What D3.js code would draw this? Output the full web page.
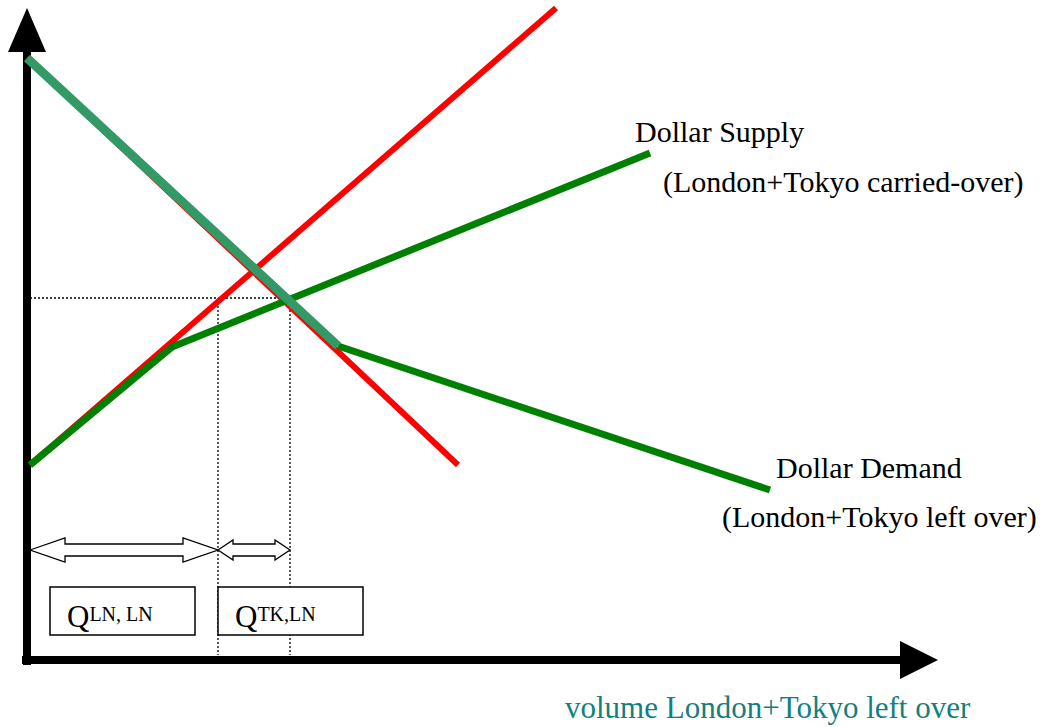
<!DOCTYPE html>
<html>
<head>
<meta charset="utf-8">
<script src="https://cdn.jsdelivr.net/npm/d3@7"></script>
<style>
  body { margin: 0; background: #fff; }
  svg { display: block; }
  text { font-family: "Liberation Serif", "DejaVu Serif", serif; }
</style>
</head>
<body>
<svg width="1048" height="727"></svg>
<script>
// Curves (quantity, price)
const redSupply = [[0.3, 19.5], [52.9, 65.2]];
const redDemand = [[0, 60.2], [43.1, 19.5]];
const dollarSupply = [[0.3, 19.5], [14.5, 31.3], [62.3, 50.7]];
const dollarDemandTop = [[0, 60.2], [31.1, 31.4]];
const dollarDemandLow = [[31.1, 31.4], [74.3, 17.0]];

// Equilibrium guides
const eqPrice = 36.2;
const qLN = 19.1;
const qTK = 26.3;

const labels = ["Dollar Supply", "(London+Tokyo carried-over)", "Dollar Demand", "(London+Tokyo left over)"];
const boxLabels = [["Q", "LN, LN"], ["Q", "TK,LN"]];
const axisLabel = "volume London+Tokyo left over";

const svg = d3.select("svg");

const x = d3.scaleLinear().domain([0, 91]).range([27, 937]);
const y = d3.scaleLinear().domain([0, 65.2]).range([660, 8]);

const line = d3.line().x(d => x(d[0])).y(d => y(d[1]));

// Axes with arrows
svg.append("line")
    .attr("x1", x(0)).attr("x2", x(0))
    .attr("y1", y(-0.5)).attr("y2", y(60.8))
    .attr("stroke", "black").attr("stroke-width", 8);
svg.append("path")
    .attr("d", `M${x(0)},${y(65.2)} L${x(-1.9)},${y(60.8)} L${x(1.9)},${y(60.8)} Z`)
    .attr("fill", "black");
svg.append("line")
    .attr("x1", x(-0.5)).attr("x2", x(87.5))
    .attr("y1", y(0)).attr("y2", y(0))
    .attr("stroke", "black").attr("stroke-width", 8);
svg.append("path")
    .attr("d", `M${x(91.1)},${y(0)} L${x(87.3)},${y(1.9)} L${x(87.3)},${y(-1.9)} Z`)
    .attr("fill", "black");

// Dotted guides
const dotted = [
  [[0.3, eqPrice], [qTK, eqPrice]],
  [[qLN, eqPrice], [qLN, 0.5]],
  [[qTK, eqPrice], [qTK, 0.5]]
];
svg.selectAll(".guide")
    .data(dotted)
    .enter()
    .append("path")
    .attr("class", "guide")
    .attr("d", line)
    .attr("fill", "none")
    .attr("stroke", "black")
    .attr("stroke-width", 1.3)
    .attr("stroke-dasharray", "2,2");

// Curves
svg.append("path").attr("d", line(redDemand))
    .attr("fill", "none").attr("stroke", "#ff0000").attr("stroke-width", 6);
svg.append("path").attr("d", line(redSupply))
    .attr("fill", "none").attr("stroke", "#ff0000").attr("stroke-width", 6);
svg.append("path").attr("d", line(dollarSupply))
    .attr("fill", "none").attr("stroke", "#008000").attr("stroke-width", 7);
svg.append("path").attr("d", line(dollarDemandLow))
    .attr("fill", "none").attr("stroke", "#008000").attr("stroke-width", 7);
svg.append("path").attr("d", line(dollarDemandTop))
    .attr("fill", "none").attr("stroke", "#339966").attr("stroke-width", 9);

// Hollow double arrows
function doubleArrow(q0, q1, p, head, half, shaft) {
  const x0 = x(q0), x1 = x(q1), yc = y(p);
  const d = `M${x0},${yc} L${x0 + head},${yc - half} L${x0 + head},${yc - shaft}` +
    ` L${x1 - head},${yc - shaft} L${x1 - head},${yc - half} L${x1},${yc}` +
    ` L${x1 - head},${yc + half} L${x1 - head},${yc + shaft} L${x0 + head},${yc + shaft}` +
    ` L${x0 + head},${yc + half} Z`;
  svg.append("path").attr("d", d)
      .attr("fill", "white").attr("stroke", "black").attr("stroke-width", 1.3);
}
doubleArrow(0.3, qLN, 11.0, 35, 12, 6);
doubleArrow(qLN, qTK, 11.0, 15, 10, 6);

// Boxes
const boxes = [[2.3, 16.8], [19.1, 33.6]];
boxes.forEach((b, i) => {
  svg.append("rect")
      .attr("x", x(b[0])).attr("y", y(7.3))
      .attr("width", x(b[1]) - x(b[0])).attr("height", y(2.5) - y(7.3))
      .attr("fill", "white").attr("stroke", "black").attr("stroke-width", 1.5);
  const t = svg.append("text")
      .attr("x", x(b[0]) + 17).attr("y", y(3.3))
      .attr("font-size", 31);
  t.append("tspan").text(boxLabels[i][0]);
  t.append("tspan").attr("dy", -6).attr("font-size", 20).text(boxLabels[i][1]);
});

// Curve labels
const labelPos = [[60.8, 51.8], [63.6, 46.8], [74.9, 18.2], [69.5, 13.3]];
svg.selectAll(".lab")
    .data(labels)
    .enter()
    .append("text")
    .attr("class", "lab")
    .attr("x", (d, i) => x(labelPos[i][0]))
    .attr("y", (d, i) => y(labelPos[i][1]))
    .attr("font-size", 30)
    .text(d => d);

svg.append("text")
    .attr("x", x(53.8)).attr("y", 718)
    .attr("font-size", 31)
    .attr("fill", "#128080")
    .text(axisLabel);
</script>
</body>
</html>
